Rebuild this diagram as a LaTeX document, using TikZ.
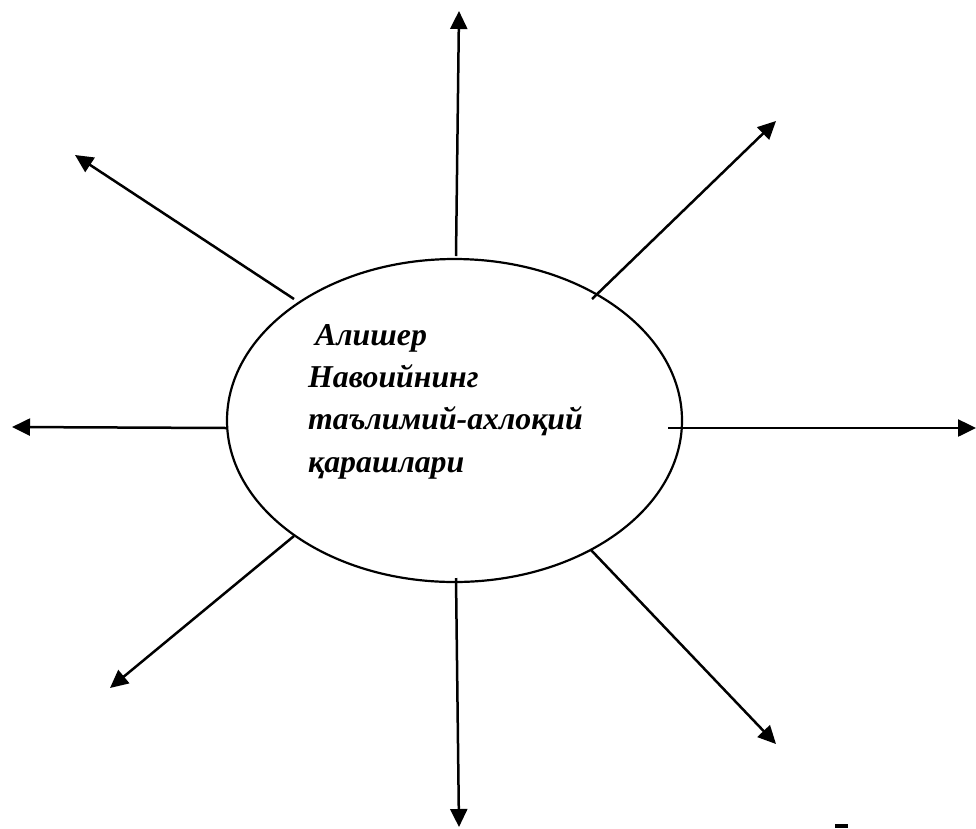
\documentclass[tikz,border=0pt]{standalone}
\usepackage{fontspec}
\setmainfont{Liberation Serif}
\usetikzlibrary{arrows.meta,shapes.geometric}
\begin{document}
\begin{tikzpicture}[x=1pt,y=-1pt,
  ray/.style={line width=2.5pt,-{Triangle[length=18pt,width=17pt]}},
  hub/.style={ellipse,draw,line width=2.2pt,minimum width=455pt,minimum height=323pt,inner sep=0pt},
  lbl/.style={anchor=base west,inner sep=0pt,font=\fontsize{31.8}{42.3}\selectfont\bfseries\itshape,align=left}]
\useasboundingbox (0,0) rectangle (976,828);
\node[hub] (e) at (454.5,420.5) {};
\node[lbl] (t) at (308,472) {\hspace{7pt}Алишер\\Навоийнинг\\таълимий-ахлоқий\\қарашлари};
% start points
\coordinate (sN) at (456,256);
\coordinate (sNE) at (592,299);
\coordinate (sE) at (668,428);
\coordinate (sSE) at (591,550);
\coordinate (sS) at (456,578);
\coordinate (sSW) at (294,536);
\coordinate (sW) at (227,428);
\coordinate (sNW) at (294,299);
% end points
\coordinate (eN) at (459,11);
\coordinate (eNE) at (776,121);
\coordinate (eE) at (976,428);
\coordinate (eSE) at (776,744);
\coordinate (eS) at (459,827);
\coordinate (eSW) at (110,688);
\coordinate (eW) at (12,427);
\coordinate (eNW) at (75,155);
\foreach \d in {N,NE,E,SE,S,SW,W,NW}{\draw[ray] (s\d) -- (e\d);}
\fill (835,824) rectangle (848,828);
\end{tikzpicture}
\end{document}
